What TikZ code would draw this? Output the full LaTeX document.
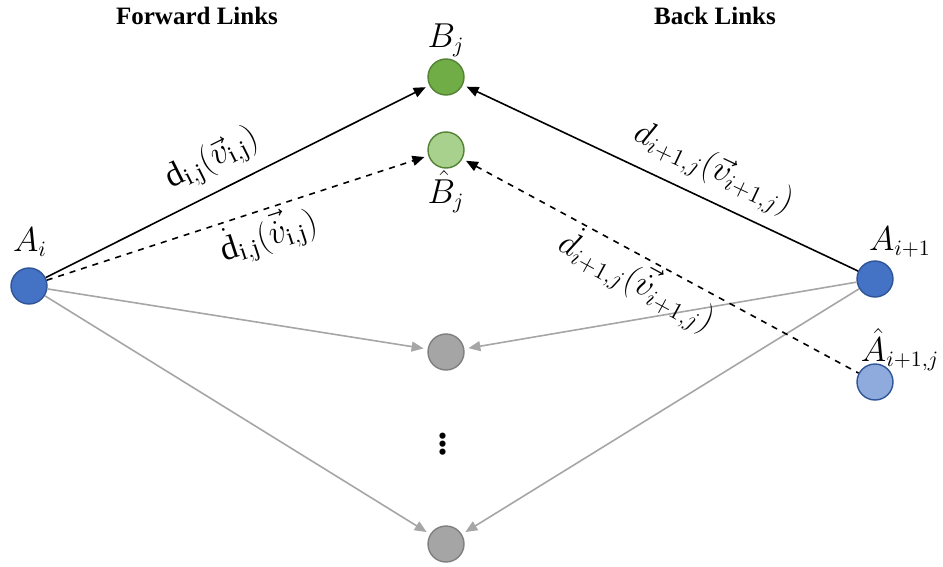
\documentclass[tikz,border=0pt]{standalone}
\usepackage{amsmath,amssymb}
\usepackage{fontspec}
\setmainfont{Liberation Serif}
\usepackage{tikz}
\usetikzlibrary{arrows.meta,positioning,calc}

\definecolor{nodeblue}{HTML}{4472C4}
\definecolor{nodelblue}{HTML}{8FAADC}
\definecolor{edgeblue}{HTML}{2F5597}
\definecolor{nodegreen}{HTML}{70AD47}
\definecolor{nodelgreen}{HTML}{A9D18E}
\definecolor{edgegreen}{HTML}{548235}
\definecolor{nodegray}{HTML}{A5A5A5}
\definecolor{edgegray}{HTML}{7F7F7F}
\definecolor{linkgray}{HTML}{A6A6A6}

\begin{document}
\begin{tikzpicture}[x=0.5pt,y=-0.5pt,
    pt/.style={circle,draw,line width=0.7pt,minimum size=18pt,inner sep=0pt},
    anode/.style={pt,fill=nodeblue,draw=edgeblue},
    ahat/.style={pt,fill=nodelblue,draw=edgeblue},
    bnode/.style={pt,fill=nodegreen,draw=edgegreen},
    bhat/.style={pt,fill=nodelgreen,draw=edgegreen},
    gnode/.style={pt,fill=nodegray,draw=edgegray},
    lbl/.style={font=\fontsize{16}{18}\selectfont},
    elbl/.style={font=\fontsize{17}{19}\selectfont,inner sep=1pt},
    title/.style={font=\fontsize{12.5}{15}\selectfont\bfseries},
    arrow/.style={-{Triangle[length=6pt,width=5pt]},line width=0.8pt,shorten >=2pt},
    backarrow/.style={{Triangle[length=6pt,width=5pt]}-,line width=0.8pt,shorten <=2pt},
    gray link/.style={-{Triangle[length=6pt,width=5pt]},draw=linkgray,color=linkgray,line width=0.8pt,shorten >=2pt}]
    \useasboundingbox (0,0) rectangle (943,567);
    % nodes
    \node[anode] (ai) at (29,286) {};
    \node[bnode] (bj) at (446,77) {};
    \node[bhat] (bjh) at (446,150) {};
    \node[anode] (aii) at (875,279) {};
    \node[ahat] (aiih) at (875,382) {};
    \node[gnode] (g1) at (446,352) {};
    \node[gnode] (g2) at (446,544) {};
    % labels
    \node[lbl] at (30,242) {$A_i$};
    \node[lbl] at (446,40) {$B_j$};
    \node[lbl] at (446,192) {$\hat{B}_j$};
    \node[lbl] at (900,242) {$A_{i+1}$};
    \node[lbl] at (900,350) {$\hat{A}_{i+1,j}$};
    \node[title] at (197,16) {Forward Links};
    \node[title] at (715,16) {Back Links};
    \node[font=\fontsize{26}{26}\selectfont] at (443,438) {$\vdots$};
    % gray links
    \draw[gray link] (ai) -- (g1);
    \draw[gray link] (ai) -- (g2);
    \draw[gray link] (aii) -- (g1);
    \draw[gray link] (aii) -- (g2);
    % forward links
    \draw[arrow] (ai) -- node[elbl,sloped,above=5pt,pos=0.47] {$\mathrm{d}_{\mathrm{i,j}}(\vec{v}_{\mathrm{i,j}})$} (bj);
    \draw[arrow,dashed] (ai) -- node[elbl,sloped,below=1pt,pos=0.56] {$\dot{\mathrm{d}}_{\mathrm{i,j}}(\vec{\dot{v}}_{\mathrm{i,j}})$} (bjh);
    % back links
    \draw[backarrow] (bj) -- node[elbl,sloped,above=5pt,pos=0.6] {$d_{i+1,j}(\vec{v}_{i+1,j})$} (aii);
    \draw[backarrow,dashed] (bjh) -- node[elbl,sloped,below=0pt,pos=0.47] {$\dot{d}_{i+1,j}(\vec{\dot{v}}_{i+1,j})$} (aiih);
\end{tikzpicture}
\end{document}
